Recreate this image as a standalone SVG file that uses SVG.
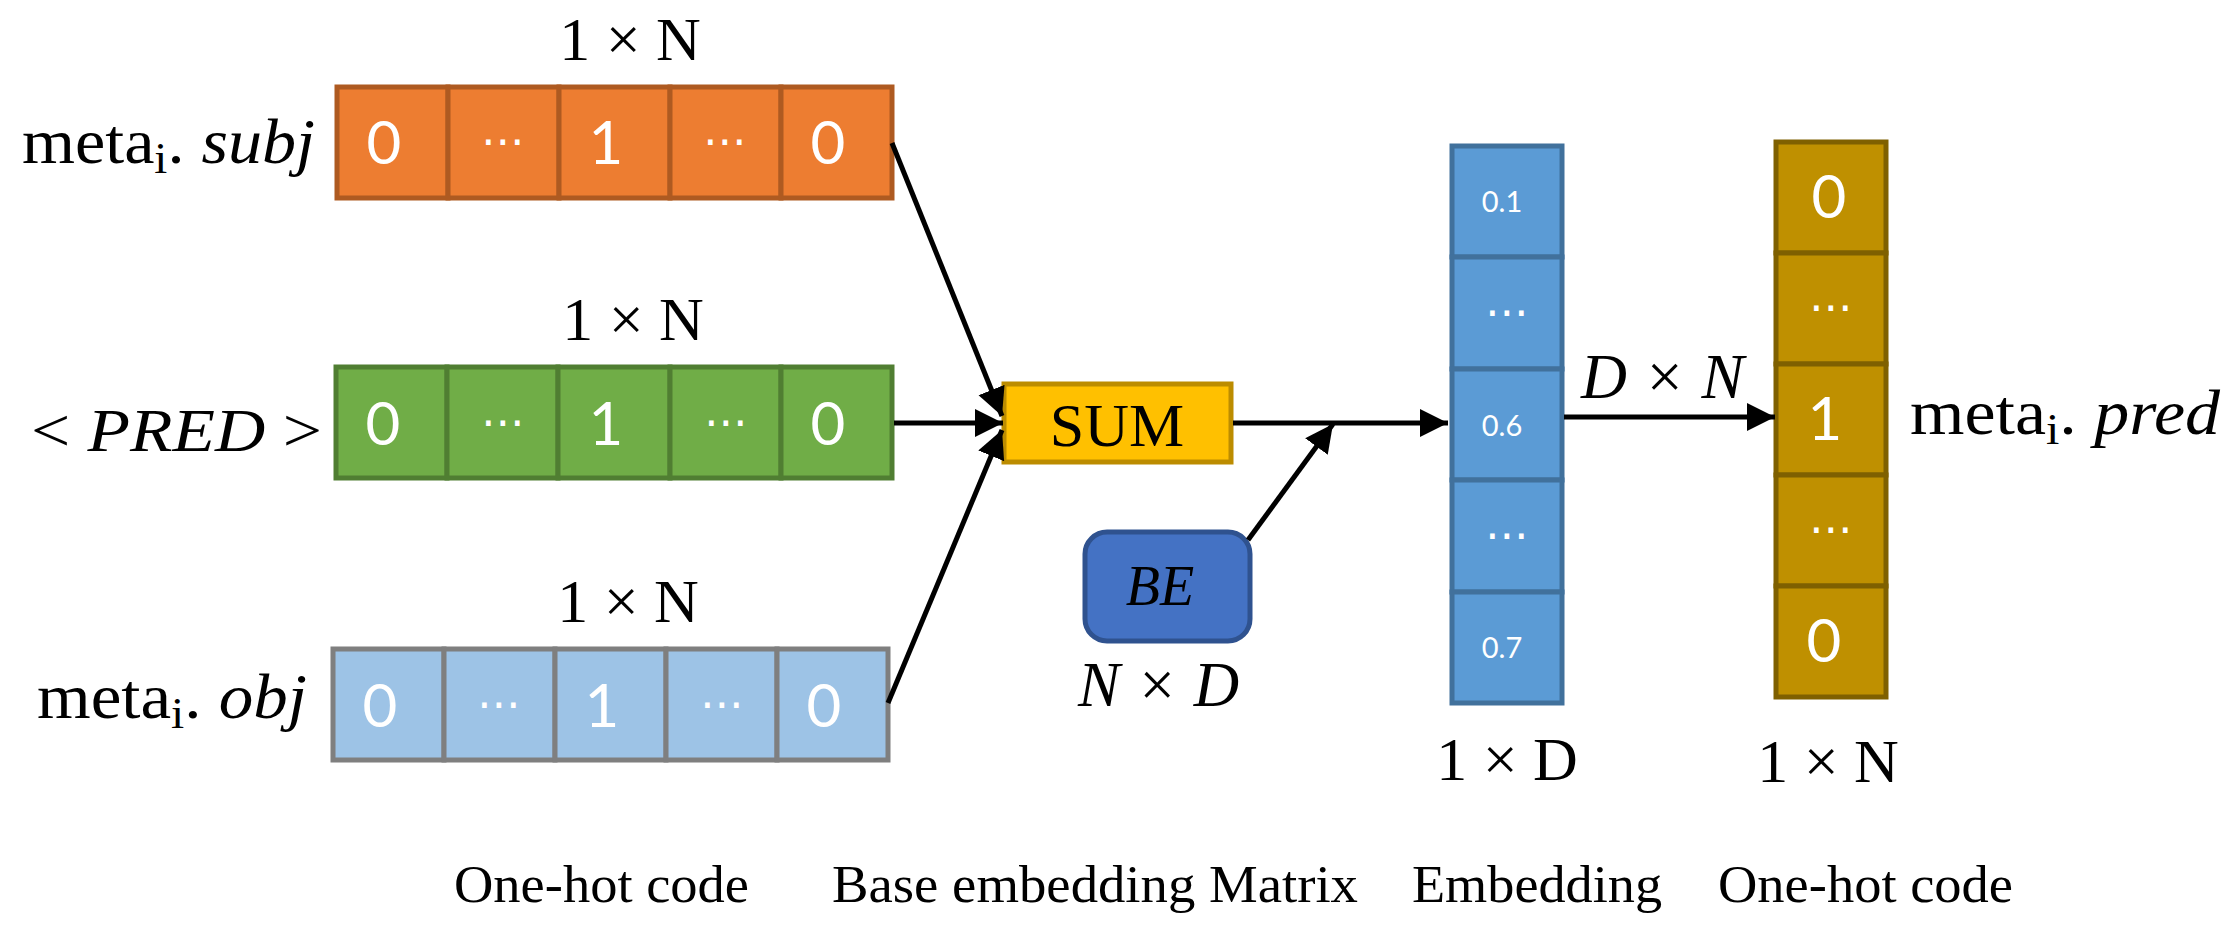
<svg xmlns="http://www.w3.org/2000/svg" width="2223" height="951" viewBox="0 0 2223 951">
<style>
.math{font-family:"Liberation Serif",serif;fill:#000}
.math tspan{fill:#000}
.lbl{font-family:"Liberation Serif",serif;font-size:52px;fill:#000}
.num{font-family:Lato,"Liberation Sans",sans-serif;fill:#fff;text-anchor:middle}
.dots{font-family:"DejaVu Sans",sans-serif;fill:#fff;text-anchor:middle;font-size:44px}
.it{font-style:italic}
.org rect{fill:#ED7D31;stroke:#AE5A21;stroke-width:5}
.grn rect{fill:#70AD47;stroke:#507E32;stroke-width:5}
.lbl-b rect{fill:#9DC3E6;stroke:#7F7F7F;stroke-width:5}
.emb rect{fill:#5B9BD5;stroke:#41719C;stroke-width:5}
.gld rect{fill:#BF9000;stroke:#7F6000;stroke-width:5}
.conn line{stroke:#000;stroke-width:5;marker-end:url(#ah)}
</style>
<defs>
<marker id="ah" markerUnits="userSpaceOnUse" viewBox="0 0 30 30" markerWidth="30" markerHeight="30" refX="28" refY="15" orient="auto">
<path d="M0,1 L28,15 L0,29 z" fill="#000"/>
</marker>
</defs>

<g id="subj-row" class="org">
<rect x="337" y="87" width="111" height="111"/>
<rect x="448" y="87" width="111" height="111"/>
<rect x="559" y="87" width="111" height="111"/>
<rect x="670" y="87" width="111" height="111"/>
<rect x="781" y="87" width="111" height="111"/>
<text class="num" x="384" y="164" font-size="60">0</text>
<text class="dots" x="503" y="156">⋯</text>
<text class="num" x="606" y="164" font-size="60">1</text>
<text class="dots" x="725" y="156">⋯</text>
<text class="num" x="828" y="164" font-size="60">0</text>
</g>
<g id="subj-dim"><text class="math" x="630" y="60" font-size="62" text-anchor="middle">1 × N</text></g>
<g id="subj-label"><text class="math" x="22" y="163" font-size="64" textLength="293" lengthAdjust="spacingAndGlyphs">meta<tspan font-size="44" dy="10">i</tspan><tspan dy="-10">. </tspan><tspan class="it">subj</tspan></text></g>

<g id="pred-row" class="grn">
<rect x="336" y="367" width="111" height="111"/>
<rect x="447" y="367" width="111" height="111"/>
<rect x="558" y="367" width="112" height="111"/>
<rect x="670" y="367" width="111" height="111"/>
<rect x="781" y="367" width="111" height="111"/>
<text class="num" x="383" y="445" font-size="60">0</text>
<text class="dots" x="503" y="437">⋯</text>
<text class="num" x="606" y="445" font-size="60">1</text>
<text class="dots" x="726" y="437">⋯</text>
<text class="num" x="828" y="445" font-size="60">0</text>
</g>
<g id="pred-dim"><text class="math" x="633" y="340" font-size="62" text-anchor="middle">1 × N</text></g>
<g id="pred-label"><text class="math" x="31" y="451" font-size="62" textLength="291" lengthAdjust="spacingAndGlyphs">&lt; <tspan class="it">PRED</tspan> &gt;</text></g>

<g id="obj-row" class="lbl-b">
<rect x="333" y="649" width="111" height="111"/>
<rect x="444" y="649" width="111" height="111"/>
<rect x="555" y="649" width="111" height="111"/>
<rect x="666" y="649" width="111" height="111"/>
<rect x="777" y="649" width="111" height="111"/>
<text class="num" x="380" y="727" font-size="60">0</text>
<text class="dots" x="499" y="719">⋯</text>
<text class="num" x="602" y="727" font-size="60">1</text>
<text class="dots" x="722" y="719">⋯</text>
<text class="num" x="824" y="727" font-size="60">0</text>
</g>
<g id="obj-dim"><text class="math" x="628" y="622" font-size="62" text-anchor="middle">1 × N</text></g>
<g id="obj-label"><text class="math" x="37" y="718" font-size="64" textLength="270" lengthAdjust="spacingAndGlyphs">meta<tspan font-size="44" dy="10">i</tspan><tspan dy="-10">. </tspan><tspan class="it">obj</tspan></text></g>

<g id="sum">
<rect x="1004" y="384" width="227" height="78" fill="#FFC000" stroke="#BC8C00" stroke-width="5"/>
<text class="math" x="1117" y="446" font-size="62" text-anchor="middle">SUM</text>
</g>

<g id="be">
<rect x="1085" y="532" width="165" height="109" rx="22" ry="22" fill="#4472C4" stroke="#2F528F" stroke-width="5"/>
<text class="math it" x="1160" y="605" font-size="56" text-anchor="middle">BE</text>
<text class="math it" x="1078" y="706" font-size="64" textLength="161" lengthAdjust="spacingAndGlyphs">N × D</text>
</g>

<g id="embedding" class="emb">
<rect x="1452" y="146" width="110" height="111"/>
<rect x="1452" y="257" width="110" height="112"/>
<rect x="1452" y="369" width="110" height="111"/>
<rect x="1452" y="480" width="110" height="112"/>
<rect x="1452" y="592" width="110" height="111"/>
<text class="num" x="1502" y="212" font-size="29">0.1</text>
<text class="dots" x="1507" y="327">⋯</text>
<text class="num" x="1502" y="436" font-size="29">0.6</text>
<text class="dots" x="1507" y="550">⋯</text>
<text class="num" x="1502" y="658" font-size="29">0.7</text>
<text class="math" x="1507" y="780" font-size="62" text-anchor="middle">1 × D</text>
</g>

<g id="output" class="gld">
<rect x="1776" y="142" width="110" height="111"/>
<rect x="1776" y="253" width="110" height="111"/>
<rect x="1776" y="364" width="110" height="111"/>
<rect x="1776" y="475" width="110" height="111"/>
<rect x="1776" y="586" width="110" height="111"/>
<text class="num" x="1829" y="218" font-size="60">0</text>
<text class="dots" x="1831" y="322">⋯</text>
<text class="num" x="1825" y="440" font-size="60">1</text>
<text class="dots" x="1831" y="544">⋯</text>
<text class="num" x="1824" y="662" font-size="60">0</text>
<text class="math" x="1828" y="782" font-size="62" text-anchor="middle">1 × N</text>
</g>
<g id="pred-out-label"><text class="math" x="1910" y="434" font-size="64" textLength="310" lengthAdjust="spacingAndGlyphs">meta<tspan font-size="44" dy="10">i</tspan><tspan dy="-10">. </tspan><tspan class="it">pred</tspan></text></g>

<g id="dn-label"><text class="math it" x="1581" y="398" font-size="64" textLength="163" lengthAdjust="spacingAndGlyphs">D × N</text></g>

<g id="connectors" class="conn">
<line x1="892" y1="143" x2="1002" y2="416"/>
<line x1="894" y1="423" x2="1003" y2="423"/>
<line x1="888" y1="703" x2="1002" y2="430"/>
<line x1="1233" y1="423" x2="1448" y2="423"/>
<line x1="1248" y1="540" x2="1333" y2="424"/>
<line x1="1564" y1="417" x2="1775" y2="417"/>
</g>

<g id="captions">
<text class="lbl" x="454" y="902" textLength="295" lengthAdjust="spacingAndGlyphs">One-hot code</text>
<text class="lbl" x="832" y="902" textLength="526" lengthAdjust="spacingAndGlyphs">Base embedding Matrix</text>
<text class="lbl" x="1412" y="902" textLength="250" lengthAdjust="spacingAndGlyphs">Embedding</text>
<text class="lbl" x="1718" y="902" textLength="295" lengthAdjust="spacingAndGlyphs">One-hot code</text>
</g>
</svg>
